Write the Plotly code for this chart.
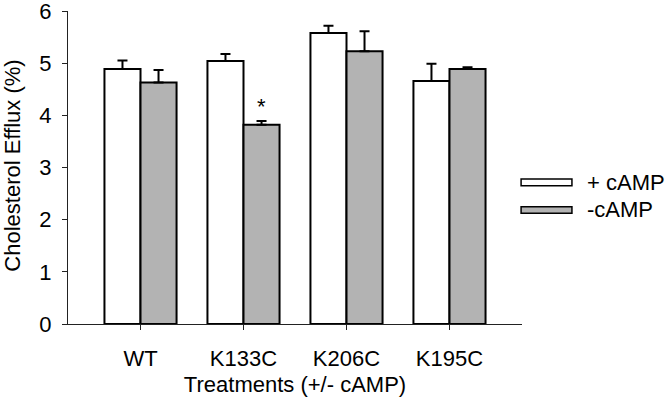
import plotly.graph_objects as go

categories = ["WT", "K133C", "K206C", "K195C"]
series_names = ["+ cAMP", "-cAMP"]
plus_camp = [4.89, 5.04, 5.58, 4.66]
plus_camp_err = [0.16, 0.135, 0.135, 0.33]
minus_camp = [4.63, 3.82, 5.23, 4.89]
minus_camp_err = [0.24, 0.07, 0.38, 0.03]
minus_marks = ["", "*", "", ""]
y_ticks = [0, 1, 2, 3, 4, 5, 6]
x_title = "Treatments (+/- cAMP)"
y_title = "Cholesterol Efflux (%)"

FONT = "Liberation Sans, Arial, sans-serif"
GRAY = "#b3b3b3"

fig = go.Figure()
fig.add_trace(go.Bar(
    x=categories, y=plus_camp, name=series_names[0],
    marker=dict(color="white", line=dict(color="black", width=2)),
    error_y=dict(type="data", array=plus_camp_err, arrayminus=[0]*4,
                 symmetric=False, color="black", thickness=2, width=5),
    showlegend=False,
))
fig.add_trace(go.Bar(
    x=categories, y=minus_camp, name=series_names[1],
    marker=dict(color=GRAY, line=dict(color="black", width=2)),
    error_y=dict(type="data", array=minus_camp_err, arrayminus=[0]*4,
                 symmetric=False, color="black", thickness=2, width=5),
    showlegend=False,
))

# significance marks above the -cAMP bars
for cat, val, err, mark in zip(categories, minus_camp, minus_camp_err, minus_marks):
    if mark:
        fig.add_annotation(x=cat, y=val + err, text=mark, showarrow=False,
                           xshift=18, yanchor="bottom", yshift=0,
                           font=dict(size=22, color="black", family=FONT))

# legend drawn as wide swatches like the original
legend_rows = [(0.463, 0.442, "white"), (0.375, 0.354, GRAY)]
for (y1, y0, col), name in zip(legend_rows, series_names):
    fig.add_shape(type="rect", xref="paper", yref="paper",
                  x0=0.998, x1=1.110, y0=y0, y1=y1,
                  fillcolor=col, line=dict(color="black", width=1.5))
    fig.add_annotation(xref="paper", yref="paper", x=1.141, y=(y0 + y1) / 2,
                       text=name, showarrow=False, xanchor="left", yanchor="middle",
                       borderpad=0,
                       font=dict(size=22, color="black", family=FONT))

# y-axis title placed as in the original
fig.add_annotation(xref="paper", yref="paper", x=-0.121, y=0.506,
                   text=y_title, textangle=-90, showarrow=False,
                   xanchor="center", yanchor="middle", borderpad=0,
                   font=dict(size=22, color="black", family=FONT))

fig.update_layout(
    width=667, height=403,
    margin=dict(l=68, r=145, t=11, b=79),
    paper_bgcolor="white", plot_bgcolor="white",
    barmode="group", bargap=0.3, bargroupgap=0,
    font=dict(family=FONT, size=22, color="black"),
)
fig.update_xaxes(
    automargin=False,
    range=[-0.704, 3.704],
    showline=True, linecolor="#222", linewidth=1,
    ticks="outside", ticklen=5, tickcolor="#222",
    ticklabelstandoff=10,
    title=dict(text=x_title, font=dict(size=22), standoff=6),
    showgrid=False, zeroline=False,
)
fig.update_yaxes(
    automargin=False,
    range=[0, 6], tickvals=y_ticks,
    ticklabeloverflow="allow",
    showline=True, linecolor="#222", linewidth=1,
    ticks="outside", ticklen=5, tickcolor="#222",
    ticklabelstandoff=6,
    showgrid=False, zeroline=False,
)

fig.write_html(
    "out.html",
    config={"displayModeBar": False},
    post_script="document.body.style.margin='0';document.body.style.overflow='hidden';",
)
